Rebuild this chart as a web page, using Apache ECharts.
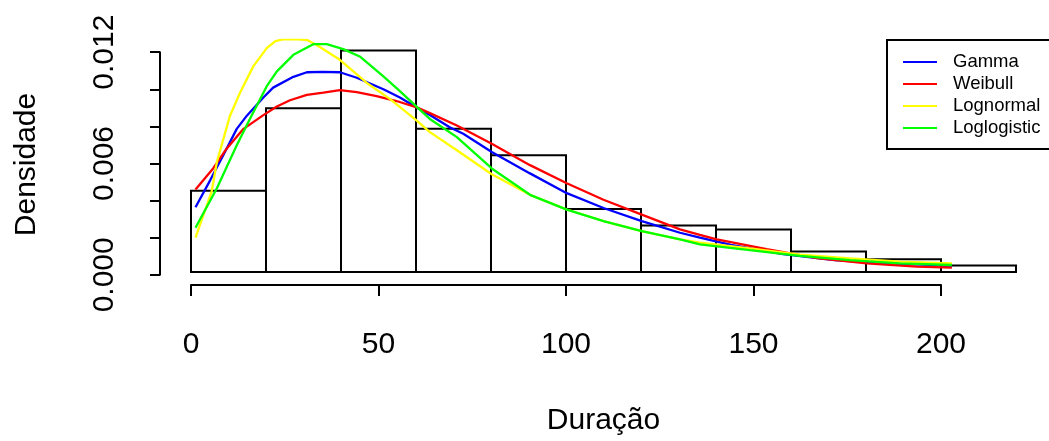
<!DOCTYPE html>
<html><head><meta charset="utf-8">
<script src="https://cdn.jsdelivr.net/npm/echarts@6/dist/echarts.min.js"></script>
<style>html,body{margin:0;padding:0;background:#fff}#c{width:1049px;height:441px}</style>
</head><body><div id="c"></div>
<script>
// Histogram
const breaks = [0, 20, 40, 60, 80, 100, 120, 140, 160, 180, 200, 220];
const densities = [0.00443, 0.00893, 0.01209, 0.00782, 0.00637, 0.00344, 0.00254, 0.00232, 0.00112, 0.00069, 0.00035];

// Density curves
const seriesNames = ['Gamma', 'Weibull', 'Lognormal', 'Loglogistic'];
const seriesColors = ['#0000FF', '#FF0000', '#FFFF00', '#00FF00'];

const gammaX = [1.2, 5.1, 8.6, 12.2, 14.9, 19.3, 21.9, 27.3, 30.9, 35, 39.7, 44.2, 51.3, 55.7, 60.2, 63.7, 69.1, 72.6, 80.2, 90.4, 100.2, 110, 120.2, 130.4, 135.7, 144, 157.9, 171.6, 184.9, 202.9];
const gammaY = [0.00353, 0.00500, 0.00637, 0.00781, 0.00853, 0.00952, 0.01006, 0.01065, 0.0109, 0.01092, 0.0109, 0.0106, 0.00997, 0.00952, 0.00898, 0.00857, 0.00788, 0.00754, 0.00655, 0.00538, 0.0043, 0.00349, 0.00277, 0.00214, 0.00187, 0.00148, 0.00097, 0.00065, 0.00047, 0.00034];

const weibullX = [1.2, 5.9, 9.5, 14, 19.3, 22.9, 26.4, 30.9, 35.3, 39.7, 44.2, 49.5, 54.8, 60.2, 63.7, 70.9, 80.2, 90.4, 100.2, 110, 120.2, 130.4, 135.7, 140.2, 153.5, 166.9, 180.2, 193.5, 202.9];
const weibullY = [0.00450, 0.00565, 0.00673, 0.00781, 0.00856, 0.00903, 0.00937, 0.00966, 0.00979, 0.00993, 0.00982, 0.0096, 0.00933, 0.00898, 0.00867, 0.00799, 0.007, 0.00583, 0.00484, 0.00394, 0.00313, 0.00232, 0.00202, 0.00178, 0.00124, 0.00075, 0.00047, 0.00029, 0.00024];

const lognormalX = [1.2, 5.5, 6.9, 10.4, 13.1, 16.6, 20.2, 22.5, 24.5, 28, 31, 33.5, 39.7, 46.8, 53.1, 60.2, 63.7, 70.9, 80.2, 90.4, 100.2, 110, 120.2, 130.4, 135.7, 149, 162.4, 175.7, 189, 202.9];
const lognormalY = [0.00187, 0.00439, 0.00600, 0.00853, 0.00979, 0.01122, 0.01222, 0.01260, 0.01269, 0.01271, 0.01266, 0.01239, 0.01158, 0.01033, 0.00943, 0.00826, 0.00763, 0.00664, 0.00533, 0.00421, 0.00341, 0.00278, 0.00223, 0.00178, 0.0016, 0.00128, 0.00094, 0.00074, 0.00056, 0.00047];

const loglogisticX = [1.2, 6.9, 12.2, 15.7, 20.2, 22.9, 27.3, 32.6, 36.2, 40.6, 45, 51.3, 55.7, 60.2, 63.7, 70.9, 80.2, 90.4, 100.2, 110, 120.2, 130.4, 135.7, 149, 162.4, 175.7, 189, 202.9];
const loglogisticY = [0.00241, 0.00457, 0.00691, 0.00835, 0.01014, 0.01095, 0.01185, 0.01243, 0.01243, 0.01216, 0.01176, 0.01068, 0.00987, 0.00901, 0.00835, 0.00736, 0.00565, 0.00421, 0.0034, 0.00277, 0.00223, 0.00178, 0.00151, 0.00119, 0.00088, 0.00065, 0.00047, 0.00038];

// Axes
const xTicks = [0, 50, 100, 150, 200];
const yTickLabels = ['0.000', '', '', '0.006', '', '', '0.012'];
const xTitle = 'Duração';
const yTitle = 'Densidade';

const FONT = "'Liberation Sans', Arial, sans-serif";
const curveXs = [gammaX, weibullX, lognormalX, loglogisticX];
const curveYs = [gammaY, weibullY, lognormalY, loglogisticY];

const chart = echarts.init(document.getElementById('c'), null, {renderer: 'canvas'});

const lineSeries = seriesNames.map((name, k) => ({
  name: name,
  type: 'line',
  xAxisIndex: 0, yAxisIndex: 0,
  data: curveXs[k].map((x, i) => [x, curveYs[k][i]]),
  symbol: 'none', showSymbol: false,
  color: seriesColors[k],
  lineStyle: {color: seriesColors[k], width: 2.3},
  clip: true, silent: true, z: 3 + k
}));

chart.setOption({
  animation: false,
  backgroundColor: '#fff',
  textStyle: {fontFamily: FONT},
  grid: [
    {left: 158, right: 0, top: 40, bottom: 157, containLabel: false},
    {left: 191, width: 750, top: 200, bottom: 156, containLabel: false},
    {left: 160, width: 100, top: 52.2, bottom: 166.2, containLabel: false}
  ],
  xAxis: [
    {gridIndex: 0, type: 'value', min: -8.8, max: 228.8,
      axisLine: {show: false}, axisTick: {show: false}, axisLabel: {show: false}, splitLine: {show: false},
      name: xTitle, nameLocation: 'middle', nameGap: 125,
      nameTextStyle: {fontSize: 30, color: '#000', fontFamily: FONT}},
    {gridIndex: 1, type: 'value', min: xTicks[0], max: xTicks[xTicks.length - 1], interval: 50,
      axisLine: {show: true, onZero: false, lineStyle: {color: '#000', width: 2}},
      axisTick: {show: true, length: 11, lineStyle: {color: '#000', width: 2}},
      axisLabel: {show: true, fontSize: 30, color: '#000', margin: 45, fontFamily: FONT},
      splitLine: {show: false}},
    {gridIndex: 2, type: 'value', show: false, min: 0, max: 1}
  ],
  yAxis: [
    {gridIndex: 0, type: 'value', min: -0.000494, max: 0.01266,
      axisLine: {show: false}, axisTick: {show: false}, axisLabel: {show: false}, splitLine: {show: false},
      name: yTitle, nameLocation: 'middle', nameGap: 116,
      nameTextStyle: {fontSize: 30, color: '#000', fontFamily: FONT, padding: [0, 8, 0, 0]}},
    {gridIndex: 1, type: 'value', show: false, min: 0, max: 1},
    {gridIndex: 2, type: 'value', min: 0, max: 0.012, interval: 0.002,
      axisLine: {show: true, onZero: false, lineStyle: {color: '#000', width: 2}},
      axisTick: {show: true, length: 10, lineStyle: {color: '#000', width: 2}},
      axisLabel: {show: true, rotate: 90, fontSize: 30, color: '#000', margin: 40, fontFamily: FONT,
        formatter: (v) => yTickLabels[Math.round(v / 0.002)] || ''},
      splitLine: {show: false}}
  ],
  legend: {
    data: seriesNames,
    orient: 'vertical',
    left: 903, top: 52,
    padding: 0,
    itemWidth: 34, itemHeight: 2, itemGap: 2,
    icon: 'rect',
    selectedMode: false,
    textStyle: {fontSize: 18.5, color: '#000', fontFamily: FONT, lineHeight: 20, padding: [0, 0, 0, 11]}
  },
  graphic: [
    {type: 'rect', shape: {x: 887, y: 40, width: 180, height: 109},
      style: {fill: 'none', stroke: '#000', lineWidth: 2}, z: 1, silent: true}
  ],
  series: [
    {
      type: 'custom', name: 'hist', xAxisIndex: 0, yAxisIndex: 0,
      data: densities.map((d, i) => [breaks[i], breaks[i + 1], d]),
      encode: {x: [0, 1], y: 2},
      silent: true, z: 2,
      renderItem: (params, api) => {
        const p0 = api.coord([api.value(0), 0]);
        const p1 = api.coord([api.value(1), api.value(2)]);
        return {type: 'rect', shape: {x: p0[0], y: p1[1], width: p1[0] - p0[0], height: p0[1] - p1[1]},
          style: {fill: '#fff', stroke: '#000', lineWidth: 2}};
      }
    },
    ...lineSeries
  ]
});
</script>
</body></html>
